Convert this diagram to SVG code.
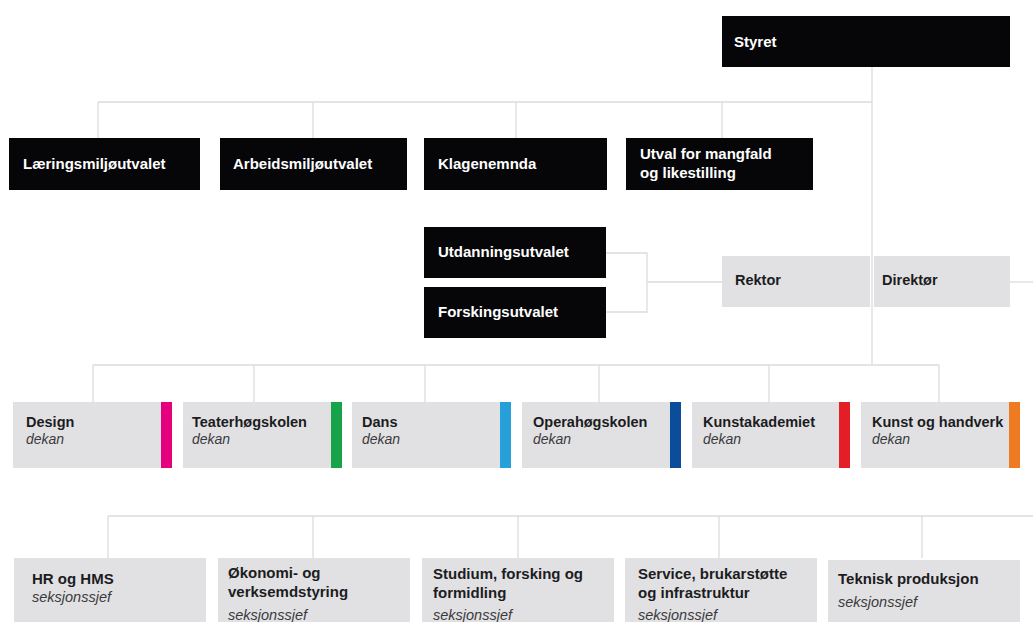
<svg xmlns="http://www.w3.org/2000/svg" width="1033" height="622" viewBox="0 0 1033 622">
<style>
.bk{fill:#060609}
.gr{fill:#e1e1e3}
.wt{fill:#ffffff;font-family:"Liberation Sans",Arial,sans-serif;font-weight:bold;font-size:15px}
.dt{fill:#1c1c1e;font-family:"Liberation Sans",Arial,sans-serif;font-weight:bold;font-size:14.5px}
.bt{fill:#1c1c1e;font-family:"Liberation Sans",Arial,sans-serif;font-weight:bold;font-size:15px}
.it{fill:#3a3a3c;font-family:"Liberation Sans",Arial,sans-serif;font-style:italic;font-size:14px}
.it2{fill:#3a3a3c;font-family:"Liberation Sans",Arial,sans-serif;font-style:italic;font-size:14.5px}
.ln{fill:none;stroke:#dcdcde;stroke-width:1.3}
</style>
<rect width="1033" height="622" fill="#ffffff"/>
<g id="connectors" class="ln">
<path d="M872 67V365"/>
<path d="M98 102H872M98 102V138M313 102V138M516 102V138M722 102V138"/>
<path d="M606 253H647V312H606M647 282H722"/>
<path d="M1010 282H1033"/>
<path d="M93 365H939M93 365V402M254 365V402M425 365V402M599 365V402M769 365V402M939 365V402"/>
<path d="M108 516H1033M108 516V558M313 516V558M518 516V558M719 516V558M922 516V558"/>
</g>
<g id="styret"><rect class="bk" x="722" y="16" width="288" height="51"/><text class="wt" x="734" y="47">Styret</text></g>
<g id="laeringsmiljoutvalet"><rect class="bk" x="9" y="138" width="191" height="52"/><text class="wt" x="23" y="169">Læringsmiljøutvalet</text></g>
<g id="arbeidsmiljoutvalet"><rect class="bk" x="220" y="138" width="187" height="52"/><text class="wt" x="233" y="169">Arbeidsmiljøutvalet</text></g>
<g id="klagenemnda"><rect class="bk" x="424" y="138" width="183" height="52"/><text class="wt" x="438" y="169">Klagenemnda</text></g>
<g id="utval-mangfald"><rect class="bk" x="626" y="138" width="187" height="52"/><text class="wt" x="640" y="159">Utval for mangfald</text><text class="wt" x="640" y="178">og likestilling</text></g>
<g id="utdanningsutvalet"><rect class="bk" x="424" y="227" width="182" height="51"/><text class="wt" x="438" y="257">Utdanningsutvalet</text></g>
<g id="forskingsutvalet"><rect class="bk" x="424" y="287" width="182" height="51"/><text class="wt" x="438" y="317">Forskingsutvalet</text></g>
<g id="rektor"><rect class="gr" x="722" y="256" width="148" height="51"/><text class="dt" x="735" y="285">Rektor</text></g>
<g id="direktor"><rect class="gr" x="874" y="256" width="136" height="51"/><text class="dt" x="882" y="285">Direktør</text></g>
<g id="design"><rect class="gr" x="13" y="402" width="159" height="66"/><rect x="161" y="402" width="11" height="66" fill="#e4007d"/><text class="dt" x="26" y="427">Design</text><text class="it" x="26" y="444">dekan</text></g>
<g id="teaterhogskolen"><rect class="gr" x="183" y="402" width="159" height="66"/><rect x="331" y="402" width="11" height="66" fill="#17a448"/><text class="dt" x="192" y="427">Teaterhøgskolen</text><text class="it" x="192" y="444">dekan</text></g>
<g id="dans"><rect class="gr" x="352" y="402" width="159" height="66"/><rect x="500" y="402" width="11" height="66" fill="#27a0da"/><text class="dt" x="362" y="427">Dans</text><text class="it" x="362" y="444">dekan</text></g>
<g id="operahogskolen"><rect class="gr" x="522" y="402" width="159" height="66"/><rect x="670" y="402" width="11" height="66" fill="#0b4d9a"/><text class="dt" x="533" y="427">Operahøgskolen</text><text class="it" x="533" y="444">dekan</text></g>
<g id="kunstakademiet"><rect class="gr" x="692" y="402" width="158" height="66"/><rect x="839" y="402" width="11" height="66" fill="#e31e26"/><text class="dt" x="703" y="427">Kunstakademiet</text><text class="it" x="703" y="444">dekan</text></g>
<g id="kunst-og-handverk"><rect class="gr" x="861" y="402" width="159" height="66"/><rect x="1009" y="402" width="11" height="66" fill="#ee7b22"/><text class="dt" x="872" y="427">Kunst og handverk</text><text class="it" x="872" y="444">dekan</text></g>
<g id="hr-hms"><rect class="gr" x="14" y="558" width="192" height="70"/><text class="bt" x="32" y="584">HR og HMS</text><text class="it2" x="32" y="602">seksjonssjef</text></g>
<g id="okonomi"><rect class="gr" x="218" y="558" width="192" height="70"/><text class="bt" x="228" y="578">Økonomi- og</text><text class="bt" x="228" y="597">verksemdstyring</text><text class="it2" x="228" y="620">seksjonssjef</text></g>
<g id="studium"><rect class="gr" x="422" y="558" width="192" height="70"/><text class="bt" x="433" y="579">Studium, forsking  og</text><text class="bt" x="433" y="598">formidling</text><text class="it2" x="433" y="620">seksjonssjef</text></g>
<g id="service"><rect class="gr" x="625" y="558" width="192" height="70"/><text class="bt" x="638" y="579">Service, brukarstøtte</text><text class="bt" x="638" y="598">og infrastruktur</text><text class="it2" x="638" y="620">seksjonssjef</text></g>
<g id="teknisk"><rect class="gr" x="828" y="560" width="192" height="70"/><text class="bt" x="838" y="584">Teknisk produksjon</text><text class="it2" x="838" y="607">seksjonssjef</text></g>
</svg>
